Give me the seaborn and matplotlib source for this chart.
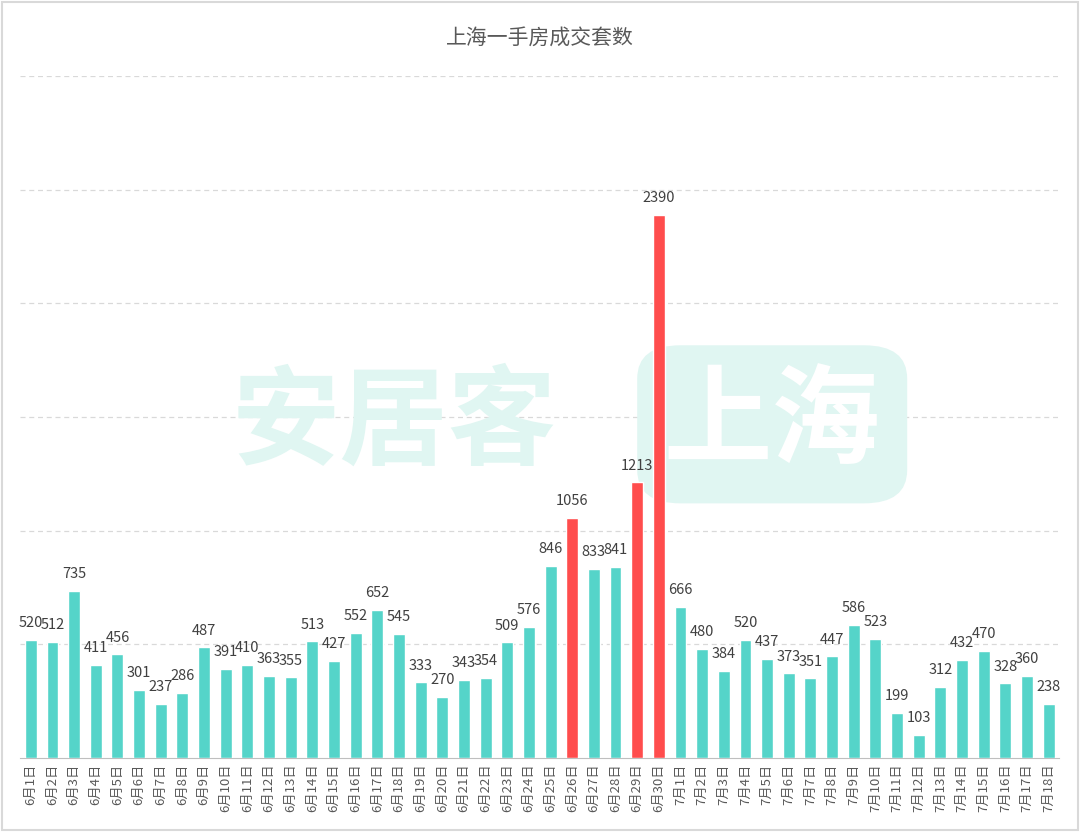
import pandas as pd
import matplotlib.pyplot as plt
from matplotlib.patches import FancyBboxPatch
import seaborn as sns

# daily new-home transactions, Shanghai, 6/1 - 7/18
dates = [f"6月{d}日" for d in range(1, 31)] + [f"7月{d}日" for d in range(1, 19)]
values = [520, 512, 735, 411, 456, 301, 237, 286, 487, 391,
          410, 363, 355, 513, 427, 552, 652, 545, 333, 270,
          343, 354, 509, 576, 846, 1056, 833, 841, 1213, 2390,
          666, 480, 384, 520, 437, 373, 351, 447, 586, 523,
          199, 103, 312, 432, 470, 328, 360, 238]
highlight = ["6月26日", "6月29日", "6月30日"]

data = pd.DataFrame({"日期": dates, "套数": values})
data["组"] = ["hi" if d in highlight else "normal" for d in dates]

sns.set_style("white")
plt.rcParams['font.family'] = ['Noto Sans CJK SC', 'DejaVu Sans']

fig = plt.figure(figsize=(10.8, 8.32), dpi=100)
ax = fig.add_axes([0.0185, 0.0889, 0.9625, 0.8197])

# watermark, kept below the bars
ax.text(0.365, 0.49, "安居客", fontsize=78, fontweight="bold", color="#e0f6f2",
        ha="center", va="center", transform=fig.transFigure, zorder=1)
ax.add_patch(FancyBboxPatch((0.6, 0.405), 0.23, 0.17, transform=fig.transFigure,
                            boxstyle="round,pad=0.01,rounding_size=0.04",
                            facecolor="#e0f6f2", edgecolor="none", zorder=1))
ax.text(0.715, 0.49, "上海", fontsize=78, fontweight="bold", color="white",
        ha="center", va="center", style="italic", transform=fig.transFigure, zorder=1.5)

sns.barplot(data=data, x="日期", y="套数", hue="组",
            palette={"normal": "#55d4c9", "hi": "#ff4d4d"}, saturation=1,
            dodge=False, width=0.55, legend=False, ax=ax, zorder=3)

for c in ax.containers:
    ax.bar_label(c, padding=7, fontsize=10.5, color="#404040", zorder=4)

ax.set_ylim(0, 3000)
ax.set_xlim(-0.5, len(dates) - 0.5)
ax.set_yticks([500, 1000, 1500, 2000, 2500, 3000])
ax.yaxis.grid(True, linestyle=(0, (4, 3)), color="#d9d9d9", linewidth=0.9)
ax.set_axisbelow(True)
ax.set_yticklabels([])
ax.tick_params(axis="y", length=0)
ax.set_xlabel("")
ax.set_ylabel("")
ax.set_xticks(range(len(dates)))
ax.set_xticklabels(dates, rotation=90, fontsize=9.5, color="#595959")
ax.tick_params(axis="x", length=0, pad=4)
ax.set_xticks([i - 0.5 for i in range(len(dates) + 1)], minor=True)
ax.tick_params(axis="x", which="minor", length=5, color="#bfbfbf")
for s in ["top", "right", "left"]:
    ax.spines[s].set_visible(False)
ax.spines["bottom"].set_color("#bfbfbf")
ax.set_facecolor("none")

fig.text(0.5, 0.955, "上海一手房成交套数", ha="center", va="center",
         fontsize=15, color="#595959")

# outer frame
fig.patches.append(plt.Rectangle((0.002, 0.002), 0.996, 0.996, transform=fig.transFigure,
                                 fill=False, edgecolor="#d9d9d9", linewidth=1.5))

plt.savefig("out.png", dpi=100)
